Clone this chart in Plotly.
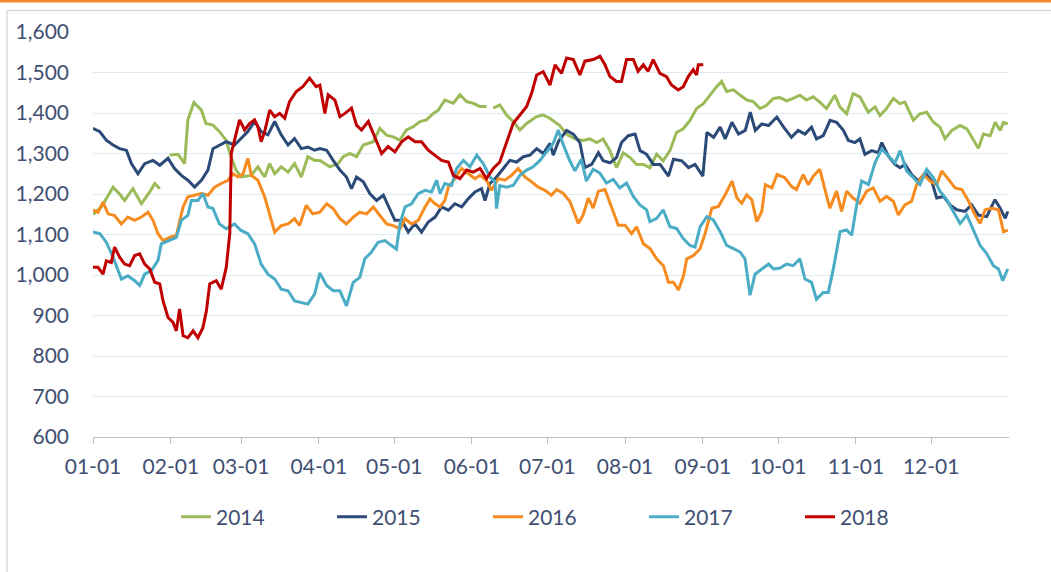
import plotly.graph_objects as go

month_days = [0, 31, 59, 90, 120, 151, 181, 212, 243, 273, 304, 334]
month_labels = ["01-01", "02-01", "03-01", "04-01", "05-01", "06-01",
                "07-01", "08-01", "09-01", "10-01", "11-01", "12-01"]

days_2014 = [0, 3.3, 8, 10.6, 12.6, 15.9, 19.3, 22.6, 24.6, 26.6, 28.5, 30.5, 33.9, 36.5, 37.8, 40.2, 43.2, 45, 47.8, 50.4, 53, 55, 57, 59, 63, 65.7, 68.4, 70.4, 72.4, 75, 77.7, 80.3, 83, 85.6, 88.3, 90.4, 94.4, 97.7, 99.7, 102.4, 105, 107.7, 111.7, 114.3, 117, 119.6, 122.3, 124.9, 127.6, 130.3, 132.9, 135.6, 137.6, 140.2, 143.6, 146.2, 148.9, 151.5, 154.2, 156.8, 158.2, 159.5, 162.1, 164.8, 167.4, 170.1, 172.8, 176.7, 179.4, 182, 186, 188.7, 192, 195.3, 198, 200.7, 203.3, 206, 208.6, 211.3, 214, 216.6, 219.3, 221.9, 224.6, 227.2, 229.9, 232.5, 235.2, 237.9, 240.5, 243.2, 245.8, 248.5, 250.5, 252.5, 255.1, 257.8, 260.5, 263.1, 265.8, 268.4, 271.1, 273.7, 276.4, 279, 281.7, 284.3, 287, 289.6, 292.3, 295.6, 297.6, 300.3, 302.9, 305.6, 308.9, 311.6, 313.6, 316.2, 318.9, 321.5, 323.5, 326.9, 329.5, 332.2, 334.9, 337.5, 339.5, 342.2, 345.5, 348.2, 350.8, 352.8, 354.8, 357.5, 359.5, 361.5, 362.8, 364.5]
vals_2014 = [1150, 1168, 1217, 1200, 1184, 1213, 1176, 1205, 1226, 1213, None, 1296, 1298, 1275, 1383, 1426, 1407, 1374, 1370, 1354, 1333, 1292, 1259, 1242, 1246, 1267, 1242, 1275, 1250, 1267, 1254, 1275, 1242, 1292, 1283, 1283, 1267, 1275, 1292, 1300, 1292, 1321, 1329, 1362, 1345, 1341, 1333, 1358, 1366, 1379, 1383, 1399, 1407, 1432, 1424, 1445, 1428, 1424, 1416, 1416, None, 1412, 1420, 1395, 1379, 1358, 1374, 1391, 1395, 1387, 1369, 1348, 1336, 1332, 1336, 1327, 1336, 1307, 1265, 1302, 1290, 1273, 1273, 1265, 1298, 1282, 1307, 1352, 1361, 1382, 1411, 1423, 1444, 1465, 1478, 1453, 1457, 1444, 1432, 1428, 1411, 1419, 1436, 1438, 1430, 1436, 1444, 1432, 1440, 1427, 1411, 1444, 1415, 1398, 1448, 1440, 1402, 1415, 1394, 1411, 1436, 1423, 1427, 1382, 1398, 1402, 1377, 1365, 1336, 1357, 1369, 1361, 1332, 1313, 1348, 1344, 1377, 1357, 1377, 1373]

days_2015 = [0, 2.7, 5.3, 8, 10.6, 13.3, 15.3, 17.9, 20.6, 23.9, 26.6, 29.9, 32.5, 35.2, 37.8, 40.5, 43.2, 45.8, 47.8, 50.4, 53.1, 56.4, 59, 61.7, 64.4, 67, 69.7, 72.4, 75, 77.7, 80.3, 83, 85.6, 88.3, 90.4, 93.1, 95.7, 98.4, 101, 103, 105, 107.7, 110.3, 113, 115.7, 118.3, 120.3, 123, 125.6, 128.3, 130.9, 133.6, 136.3, 138.9, 141.6, 144.2, 146.9, 149.5, 152.2, 154.8, 156.2, 158.2, 160.8, 163.5, 166.1, 168.8, 171.5, 174.1, 176.8, 179.4, 182.1, 183.4, 185.4, 188.7, 191.4, 194, 196, 198.7, 201.4, 203.3, 206, 208.6, 210.6, 213.3, 216, 218, 220.6, 223.3, 226, 229.3, 231.3, 234.6, 237.3, 239.9, 243, 244.6, 247.3, 249.9, 251.9, 254.6, 257.2, 259.9, 261.9, 263.9, 266.5, 269.2, 272.5, 275.2, 278.3, 281, 283.7, 286.3, 288.3, 291, 293.7, 296.3, 299, 301, 303.6, 305.6, 307.6, 310.3, 312.9, 314.3, 316.9, 319.6, 321.6, 323.6, 326.2, 328.9, 331.6, 334.2, 336.2, 338.9, 341.5, 344.2, 347.5, 350.1, 352.8, 356.1, 359.4, 361.5, 363.5, 364.5]
vals_2015 = [1362, 1354, 1333, 1321, 1312, 1308, 1275, 1250, 1275, 1283, 1271, 1288, 1263, 1246, 1234, 1217, 1234, 1259, 1312, 1321, 1329, 1321, 1337, 1354, 1379, 1354, 1346, 1379, 1346, 1321, 1337, 1312, 1316, 1308, 1312, 1308, 1283, 1259, 1242, 1213, 1242, 1230, 1201, 1184, 1197, 1160, 1135, 1135, 1106, 1127, 1106, 1131, 1143, 1168, 1160, 1176, 1168, 1188, 1205, 1213, 1184, 1226, 1242, 1263, 1283, 1279, 1292, 1296, 1312, 1300, 1325, 1296, 1329, 1357, 1348, 1327, 1265, 1273, 1302, 1282, 1277, 1290, 1327, 1344, 1348, 1307, 1298, 1273, 1273, 1244, 1286, 1282, 1265, 1273, 1244, 1352, 1340, 1365, 1336, 1377, 1348, 1357, 1402, 1357, 1373, 1369, 1390, 1365, 1340, 1357, 1348, 1365, 1336, 1344, 1382, 1377, 1357, 1332, 1327, 1336, 1298, 1307, 1302, 1327, 1294, 1273, 1265, 1273, 1248, 1232, 1252, 1232, 1190, 1194, 1173, 1161, 1157, 1173, 1148, 1144, 1186, 1165, 1140, 1157]

days_2016 = [0, 2, 4, 6, 8.6, 11.3, 13.9, 16.6, 19.3, 21.9, 23.9, 25.9, 27.9, 30.5, 33.2, 35.9, 37.8, 40.5, 43.2, 45.8, 48.5, 51.1, 53.8, 55.8, 57.8, 59.8, 61.7, 63.1, 65.7, 68.4, 70.4, 72.4, 75, 77.7, 80.3, 82.3, 85, 87.6, 90.4, 93.1, 95.7, 98.4, 101, 103.7, 106.3, 109, 111.7, 114.3, 117, 119.6, 122.3, 124.3, 126.9, 129.6, 132.3, 134.3, 136.3, 138.3, 140.2, 141.6, 144.2, 146.9, 149.5, 152.2, 154.2, 156.8, 158.8, 161.5, 164.1, 166.8, 169.4, 172.1, 174.8, 177.4, 180.1, 182.7, 184.7, 187.3, 190, 193.4, 195.3, 197.4, 199.3, 201.4, 204, 206.6, 209.3, 212, 214.6, 216.6, 219.3, 222, 224.6, 227.3, 229.3, 231.3, 233.3, 235.3, 236.6, 239.3, 241.9, 243.9, 246.6, 249.2, 251.9, 254.6, 256.6, 258.5, 260.5, 262.5, 264.5, 266.5, 267.9, 270.5, 272.6, 275.7, 278.3, 280.3, 283, 285, 287, 289.6, 291.6, 293.6, 296.3, 298.3, 300.3, 302.9, 305.6, 308.3, 310.9, 313.6, 316.2, 318.9, 320.9, 323.5, 326.2, 328.2, 330.9, 333.5, 336.2, 338.2, 340.9, 343.5, 346.2, 348.9, 351.5, 353.5, 355.5, 358.2, 360.8, 362.8, 364.5]
vals_2016 = [1160, 1155, 1180, 1151, 1147, 1126, 1143, 1135, 1143, 1155, 1135, 1102, 1085, 1093, 1098, 1168, 1193, 1197, 1201, 1197, 1217, 1226, 1234, 1250, 1242, 1250, 1288, 1246, 1234, 1193, 1151, 1106, 1122, 1126, 1139, 1122, 1172, 1151, 1155, 1176, 1164, 1139, 1126, 1143, 1155, 1151, 1168, 1147, 1126, 1122, 1114, 1139, 1126, 1135, 1168, 1188, 1176, 1168, 1184, 1217, 1238, 1263, 1250, 1238, 1246, 1234, 1209, 1238, 1234, 1246, 1263, 1242, 1230, 1217, 1209, 1197, 1211, 1202, 1182, 1127, 1148, 1190, 1165, 1207, 1211, 1169, 1123, 1123, 1102, 1119, 1077, 1065, 1040, 1023, 982, 982, 963, 998, 1040, 1048, 1065, 1102, 1165, 1169, 1198, 1232, 1190, 1177, 1198, 1186, 1132, 1157, 1223, 1215, 1248, 1240, 1219, 1211, 1248, 1223, 1244, 1261, 1215, 1165, 1207, 1157, 1207, 1190, 1177, 1207, 1215, 1182, 1194, 1182, 1148, 1173, 1182, 1223, 1248, 1232, 1223, 1257, 1236, 1215, 1211, 1182, 1148, 1127, 1161, 1165, 1161, 1107, 1111]

days_2017 = [0, 2.7, 5.3, 8, 10, 11.3, 13.9, 16.6, 18.6, 20.6, 23.3, 25.9, 27.2, 29.9, 33.2, 35.2, 37.8, 39.2, 41.8, 43.8, 45.8, 47.8, 50.4, 53.1, 56.4, 59, 61.7, 64.4, 67, 69.7, 72.4, 75, 77.7, 80.3, 83, 85.6, 88.3, 90.4, 93.1, 95.7, 98.4, 101, 103.7, 106.3, 108.3, 110.9, 113.6, 116.3, 118.9, 120.9, 122.3, 124.3, 126.9, 129.6, 132.3, 134.9, 136.9, 138.3, 140.2, 142.9, 144.9, 147.6, 150.2, 152.9, 155.5, 158.2, 160.2, 160.8, 162.1, 164.8, 167.4, 170.1, 172.8, 175.4, 178.1, 180.7, 183.4, 185.4, 187.3, 190, 192, 194.6, 196.6, 199.3, 201.9, 204.6, 207.3, 209.9, 212.6, 215.3, 217.9, 220.6, 221.9, 224.6, 227.2, 229.9, 232.5, 235.2, 237.9, 239.9, 241.9, 244.6, 247.2, 249.9, 252.5, 255.2, 257.8, 259.8, 261.8, 263.8, 266.5, 269.2, 271.2, 273.8, 276.4, 279, 281.7, 283.7, 286.3, 288.3, 291, 293, 295, 297.7, 300.3, 302.3, 304.3, 306.3, 309, 311.6, 314.3, 316.9, 319.6, 321.6, 324.2, 326.9, 329.5, 332.2, 334.9, 337.5, 340.2, 342.8, 345.5, 348.2, 350.8, 353.5, 356.1, 358.8, 360.8, 362.5, 364.5]
vals_2017 = [1106, 1102, 1081, 1044, 1011, 990, 998, 986, 974, 1002, 1011, 1036, 1077, 1085, 1093, 1135, 1147, 1184, 1184, 1201, 1168, 1164, 1126, 1114, 1126, 1110, 1102, 1077, 1027, 1002, 990, 965, 961, 936, 932, 928, 953, 1005, 974, 961, 961, 924, 982, 994, 1040, 1056, 1081, 1085, 1073, 1064, 1126, 1168, 1176, 1201, 1209, 1205, 1234, 1201, 1226, 1221, 1263, 1283, 1267, 1296, 1275, 1242, 1230, 1164, 1221, 1217, 1221, 1246, 1259, 1267, 1283, 1304, 1325, 1358, 1323, 1282, 1257, 1286, 1232, 1261, 1252, 1227, 1236, 1215, 1227, 1194, 1173, 1161, 1132, 1140, 1161, 1119, 1115, 1090, 1073, 1069, 1119, 1144, 1136, 1107, 1073, 1065, 1057, 1040, 950, 1002, 1015, 1027, 1015, 1017, 1027, 1023, 1040, 990, 982, 940, 957, 957, 1015, 1107, 1111, 1098, 1173, 1232, 1223, 1277, 1311, 1294, 1277, 1307, 1257, 1240, 1223, 1261, 1240, 1207, 1186, 1157, 1127, 1148, 1111, 1073, 1053, 1023, 1015, 986, 1015]

days_2018 = [0, 2, 4, 5.3, 7.3, 8.6, 10.6, 12.6, 14.6, 16.6, 18.6, 20.6, 22.6, 24.6, 26.6, 27.9, 29.9, 31.9, 33.2, 34.5, 35.9, 37.8, 39.9, 41.8, 43.8, 45.2, 46.5, 49.1, 51.1, 53.1, 54.5, 55.1, 56.4, 58.4, 60.4, 62.4, 64.4, 65.7, 67, 68.4, 70.4, 72.4, 74.4, 76.4, 78.3, 81, 83.6, 86.3, 88.9, 90.4, 92.4, 93.7, 96.4, 98.4, 100.4, 103, 105, 107, 109.7, 112.3, 115, 117.6, 120.3, 123, 125.6, 128.3, 130.9, 133.6, 136.3, 138.9, 141.6, 143.6, 146.2, 148.9, 151.5, 154.2, 156.8, 159.5, 162.1, 164.8, 167.4, 170.1, 172.8, 174.8, 176.8, 179.4, 182.1, 184.1, 186.7, 188.7, 191.4, 194, 196, 199.3, 202, 204, 206, 208.6, 210.6, 212.6, 215.3, 217.2, 219.3, 221.2, 223.2, 225.9, 228.5, 230.5, 233.2, 235.2, 237.2, 239.2, 240.5, 241.2, 243.2]
vals_2018 = [1019, 1019, 1002, 1035, 1031, 1069, 1044, 1027, 1023, 1048, 1052, 1027, 1015, 982, 978, 936, 895, 883, 862, 916, 850, 845, 862, 845, 870, 912, 978, 986, 965, 1019, 1102, 1300, 1333, 1383, 1358, 1374, 1383, 1366, 1329, 1354, 1407, 1391, 1399, 1387, 1428, 1453, 1465, 1486, 1465, 1469, 1399, 1445, 1432, 1391, 1399, 1412, 1370, 1358, 1379, 1341, 1300, 1317, 1304, 1329, 1341, 1329, 1329, 1308, 1296, 1283, 1279, 1246, 1238, 1259, 1254, 1263, 1238, 1263, 1279, 1325, 1374, 1395, 1416, 1449, 1494, 1502, 1469, 1519, 1498, 1536, 1532, 1494, 1528, 1532, 1540, 1519, 1490, 1478, 1478, 1532, 1532, 1503, 1519, 1503, 1532, 1498, 1490, 1469, 1457, 1465, 1490, 1507, 1494, 1519, 1519]

series = [
    ("2014", days_2014, vals_2014, "#9BBB59"),
    ("2015", days_2015, vals_2015, "#2B4A78"),
    ("2016", days_2016, vals_2016, "#F68B1F"),
    ("2017", days_2017, vals_2017, "#4BACC6"),
    ("2018", days_2018, vals_2018, "#C00000"),
]

FONT = "Lato, 'Open Sans', sans-serif"
TXT = "#3F5072"
FS = 21

fig = go.Figure()
for name, d, v, c in series:
    fig.add_trace(go.Scatter(x=d, y=v, name=name, mode="lines",
                             line=dict(color=c, width=3),
                             connectgaps=False))

# plot area spans pixels x 93..1009, y 32..437
W, H = 916.0, 405.0
def px(p):
    return (p - 93) / W
def py(q):
    return (437 - q) / H

shapes = [
    dict(type="rect", xref="paper", yref="paper", x0=px(0), x1=px(1051),
         y0=py(2.5), y1=py(0), fillcolor="#F08A2A", line=dict(width=0), layer="above"),
    dict(type="line", xref="paper", yref="paper", x0=px(7), x1=px(1051),
         y0=py(10.5), y1=py(10.5), line=dict(color="#D9D9D9", width=1.5)),
    dict(type="line", xref="paper", yref="paper", x0=px(7), x1=px(7),
         y0=py(10.5), y1=py(572), line=dict(color="#D9D9D9", width=1.5)),
]

fig.update_layout(
    width=1051, height=572,
    margin=dict(l=93, r=42, t=32, b=135, autoexpand=False),
    paper_bgcolor="white", plot_bgcolor="white",
    font=dict(family=FONT, size=FS, color=TXT),
    shapes=shapes,
    showlegend=True,
    legend=dict(orientation="h", x=px(176), xanchor="left", y=py(517), yanchor="middle",
                entrywidth=111, entrywidthmode="pixels",
                font=dict(family=FONT, size=FS, color=TXT),
                bgcolor="rgba(0,0,0,0)"),
    xaxis=dict(range=[0, 365], tickmode="array", tickvals=month_days, ticktext=month_labels,
               showgrid=False, zeroline=False, showline=True, linecolor="#BFBFBF", linewidth=1,
               ticks="outside", ticklen=6, tickcolor="#BFBFBF", ticklabelstandoff=5,
               automargin=False,
               tickfont=dict(family=FONT, size=FS, color=TXT)),
    yaxis=dict(range=[600, 1600], tickmode="linear", tick0=600, dtick=100, tickformat=",d",
               showgrid=True, gridcolor="#DDEBF3", gridwidth=1, zeroline=False, showline=False,
               ticks="", ticklabelstandoff=23, automargin=False,
               tickfont=dict(family=FONT, size=FS, color=TXT)),
)

fig.write_html("out.html",
               config={"displayModeBar": False},
               post_script="document.body.style.margin='0';document.body.style.overflow='hidden';")
